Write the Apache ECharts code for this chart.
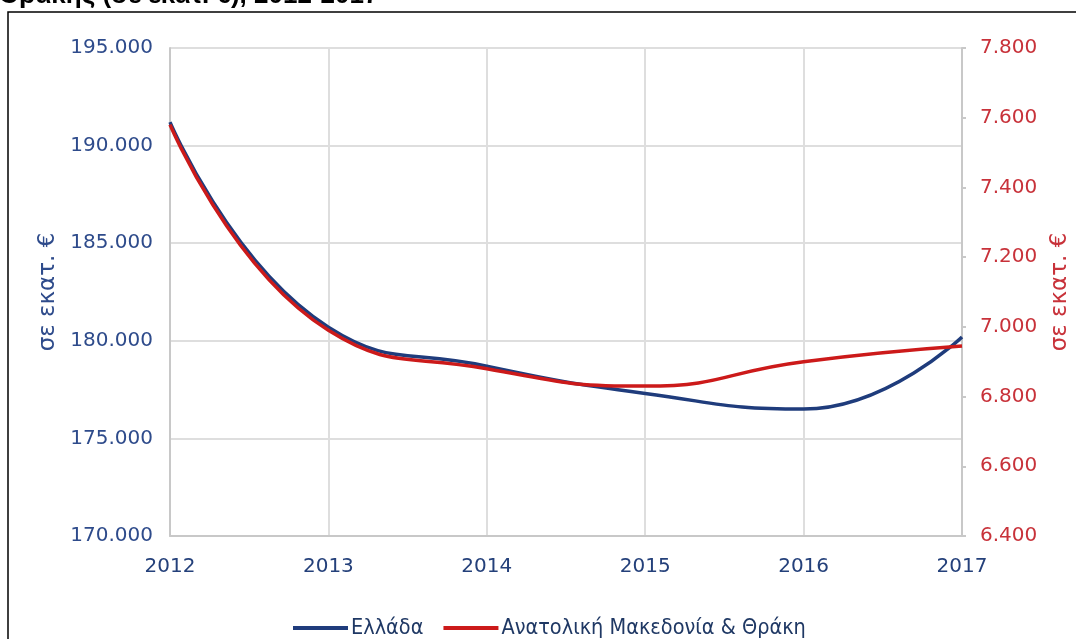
<!DOCTYPE html>
<html>
<head>
<meta charset="utf-8">
<script src="https://cdn.jsdelivr.net/npm/echarts@6/dist/echarts.min.js"></script>
<style>
html,body{margin:0;padding:0;background:#fff;}
#chart{width:1076px;height:639px;}
</style>
</head>
<body>
<div id="chart"></div>
<script>
const years = ['2012','2013','2014','2015','2016','2017'];
const greece = [191200, 180700, 178700, 177300, 176500, 180200];
const amth = [7580, 6990, 6880, 6830, 6900, 6945];
const leftTicks = {min: 170000, max: 195000, interval: 5000};
const rightTicks = {min: 6400, max: 7800, interval: 200};
const seriesNames = ['Ελλάδα', 'Ανατολική Μακεδονία & Θράκη'];
const titleText = 'Θράκης (σε εκατ. €), 2012-2017';
const axisName = 'σε εκατ. €';

const fmt = v => {
  const s = Math.round(v).toString();
  return s.replace(/\B(?=(\d{3})+(?!\d))/g, '.');
};

const chart = echarts.init(document.getElementById('chart'));
const blue = '#1f3c7c';
const red = '#cc1a1a';
const font = 'DejaVu Sans';
chart.setOption({
  animation: false,
  backgroundColor: '#fff',
  graphic: [
    {type: 'rect', shape: {x: 8, y: 12, width: 1200, height: 800}, style: {fill: 'none', stroke: '#000', lineWidth: 1.5}, silent: true},
    {type: 'text', x: -1, y: -17, style: {text: titleText, fontFamily: 'Liberation Sans', fontWeight: 'bold', fontSize: 26, fill: '#000'}}
  ],
  grid: {left: 170, right: 114, top: 48, bottom: 103, containLabel: false, outerBoundsMode: 'none'},
  legend: {
    data: seriesNames,
    left: 288,
    top: 612,
    icon: 'rect',
    itemWidth: 55,
    itemHeight: 4,
    itemGap: 20,
    textStyle: {fontFamily: 'DejaVu Sans Condensed', fontSize: 21.5, color: '#1f3864', padding: [0,0,0,-2]}
  },
  xAxis: {
    type: 'category',
    data: years,
    boundaryGap: false,
    axisLine: {lineStyle: {color: '#c8c8c8', width: 2}},
    axisTick: {show: false},
    axisLabel: {fontFamily: font, fontSize: 20, color: '#24407a', margin: 21},
    splitLine: {show: true, lineStyle: {color: '#dedede', width: 2}}
  },
  yAxis: [
    {
      type: 'value',
      min: leftTicks.min, max: leftTicks.max, interval: leftTicks.interval,
      name: axisName, nameLocation: 'middle', nameGap: 107, nameRotate: 90,
      nameTextStyle: {fontFamily: font, fontSize: 23, color: '#2e4b8b'},
      axisLine: {show: true, lineStyle: {color: '#c8c8c8', width: 2}},
      axisTick: {show: false},
      axisLabel: {fontFamily: font, fontSize: 20, color: '#2e4b8b', margin: 17, formatter: fmt},
      splitLine: {lineStyle: {color: '#dedede', width: 2}}
    },
    {
      type: 'value',
      position: 'right',
      min: rightTicks.min, max: rightTicks.max, interval: rightTicks.interval,
      name: axisName, nameLocation: 'middle', nameGap: 87, nameRotate: 90,
      nameTextStyle: {fontFamily: font, fontSize: 23, color: '#c8323a'},
      axisLine: {show: true, lineStyle: {color: '#c8c8c8', width: 2}},
      axisTick: {show: true, length: 4, lineStyle: {color: '#c8c8c8', width: 2}},
      axisLabel: {fontFamily: font, fontSize: 20, color: '#c8323a', margin: 18, formatter: fmt},
      splitLine: {show: false}
    }
  ],
  series: [
    {name: seriesNames[0], type: 'line', yAxisIndex: 0, data: greece, smooth: 0.5, showSymbol: false, lineStyle: {color: blue, width: 3.5}, itemStyle: {color: blue}},
    {name: seriesNames[1], type: 'line', yAxisIndex: 1, data: amth, smooth: 0.5, showSymbol: false, lineStyle: {color: red, width: 3.5}, itemStyle: {color: red}}
  ]
});
</script>
</body>
</html>
